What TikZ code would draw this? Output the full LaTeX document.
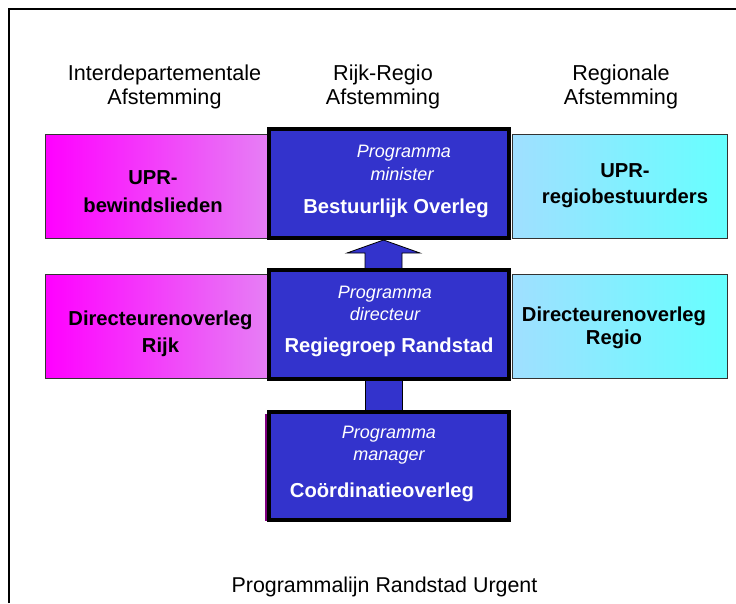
\documentclass[tikz,border=0pt]{standalone}
\usepackage{fontspec}
\setmainfont{Liberation Sans}
\usetikzlibrary{calc}
\definecolor{boxblue}{HTML}{3333CC}
\definecolor{pinkL}{HTML}{FF00FF}
\definecolor{pinkR}{HTML}{E680F5}
\definecolor{cyanL}{HTML}{A0DFFF}
\definecolor{cyanR}{HTML}{66FFFF}
\definecolor{edgepurple}{HTML}{800080}
\tikzset{
  pinkbox/.style={draw=black!80, line width=1pt, left color=pinkL, right color=pinkR,
    minimum width=225pt, minimum height=104pt, inner sep=0pt},
  cyanbox/.style={draw=black!80, line width=1pt, left color=cyanL, right color=cyanR,
    minimum width=215pt, minimum height=104pt, inner sep=0pt},
  mainbox/.style={draw=black, line width=4pt, fill=boxblue,
    minimum width=240pt, minimum height=109pt, inner sep=0pt},
  hdr/.style={font=\fontsize{21.6}{25}\selectfont, anchor=base, inner sep=0pt},
  boldtxt/.style={font=\fontsize{20.2}{24}\selectfont\bfseries, anchor=base, inner sep=0pt},
  whitetxt/.style={boldtxt, text=white},
  italtxt/.style={font=\fontsize{18}{22}\selectfont\itshape, text=white, anchor=base, inner sep=0pt},
  blockarrow/.style={fill=boxblue, draw=black, line width=0.8pt},
}
\begin{document}
\begin{tikzpicture}[x=1pt,y=-1pt]
\useasboundingbox (0,0) rectangle (736,603);
% frame
\draw[line width=1.5pt] (9,603) -- (9,9) -- (736,9);
% headers
\node[hdr] (h1a) at (164.5,80) {Interdepartementale};
\node[hdr] (h1b) at (164.5,104) {Afstemming};
\node[hdr] (h2a) at (383,80) {Rijk-Regio};
\node[hdr] (h2b) at (383,104) {Afstemming};
\node[hdr] (h3a) at (621,80) {Regionale};
\node[hdr] (h3b) at (621,104) {Afstemming};
% side boxes
\node[pinkbox] (l1) at (157.5,186.5) {};
\node[cyanbox] (r1) at (619.5,186.5) {};
\node[pinkbox] (l2) at (157.5,326.5) {};
\node[cyanbox] (r2) at (619.5,326.5) {};
% center box positions
\path (389,183.5) coordinate (c1pos) (389,324.5) coordinate (c2pos) (389,466) coordinate (c3pos);
% arrows (drawn below center boxes)
\coordinate (t1) at (389,238);
\coordinate (t2) at (389,270);
\coordinate (b2) at (389,379);
\coordinate (t3) at (389,412);
\draw[blockarrow] ($(t2)+(-24,1)$) -- ($(t2)+(-24,-17)$) -- ($(t2)+(-42,-17)$)
  -- ($(t1)+(-5.5,2)$) -- ($(t2)+(31,-17)$) -- ($(t2)+(13,-17)$) -- ($(t2)+(13,1)$) -- cycle;
\draw[blockarrow] ($(b2)+(-24,-1)$) rectangle ($(t3)+(13,1)$);
% purple edge at bottom box
\draw[edgepurple, line width=1.5pt] (266,414) -- (266,521);
% center boxes
\node[mainbox] (m1) at (c1pos) {};
\node[mainbox] (m2) at (c2pos) {};
\node[mainbox, minimum height=108pt] (m3) at (c3pos) {};
% texts in side boxes
\node[boldtxt] (l1a) at (153,184) {UPR-};
\node[boldtxt] (l1b) at (153,212) {bewindslieden};
\node[boldtxt] (r1a) at (625,177) {UPR-};
\node[boldtxt] (r1b) at (625,203) {regiobestuurders};
\node[boldtxt] (l2a) at (160.5,325) {Directeurenoverleg};
\node[boldtxt] (l2b) at (160.5,352) {Rijk};
\node[boldtxt] (r2a) at (614,321) {Directeurenoverleg};
\node[boldtxt] (r2b) at (614,344) {Regio};
% texts in center boxes
\node[italtxt] (m1a) at (404,157) {Programma};
\node[italtxt] (m1b) at (402,180) {minister};
\node[whitetxt] (m1c) at (396,213) {Bestuurlijk Overleg};
\node[italtxt] (m2a) at (385,298) {Programma};
\node[italtxt] (m2b) at (385,320) {directeur};
\node[whitetxt] (m2c) at (389,352) {Regiegroep Randstad};
\node[italtxt] (m3a) at (389,438) {Programma};
\node[italtxt] (m3b) at (389,460) {manager};
\node[whitetxt] (m3c) at (382,497) {Coördinatieoverleg};
% caption
\node[hdr, font=\fontsize{21.4}{25}\selectfont] (cap) at (384.5,592) {Programmalijn Randstad Urgent};
\end{tikzpicture}
\end{document}
